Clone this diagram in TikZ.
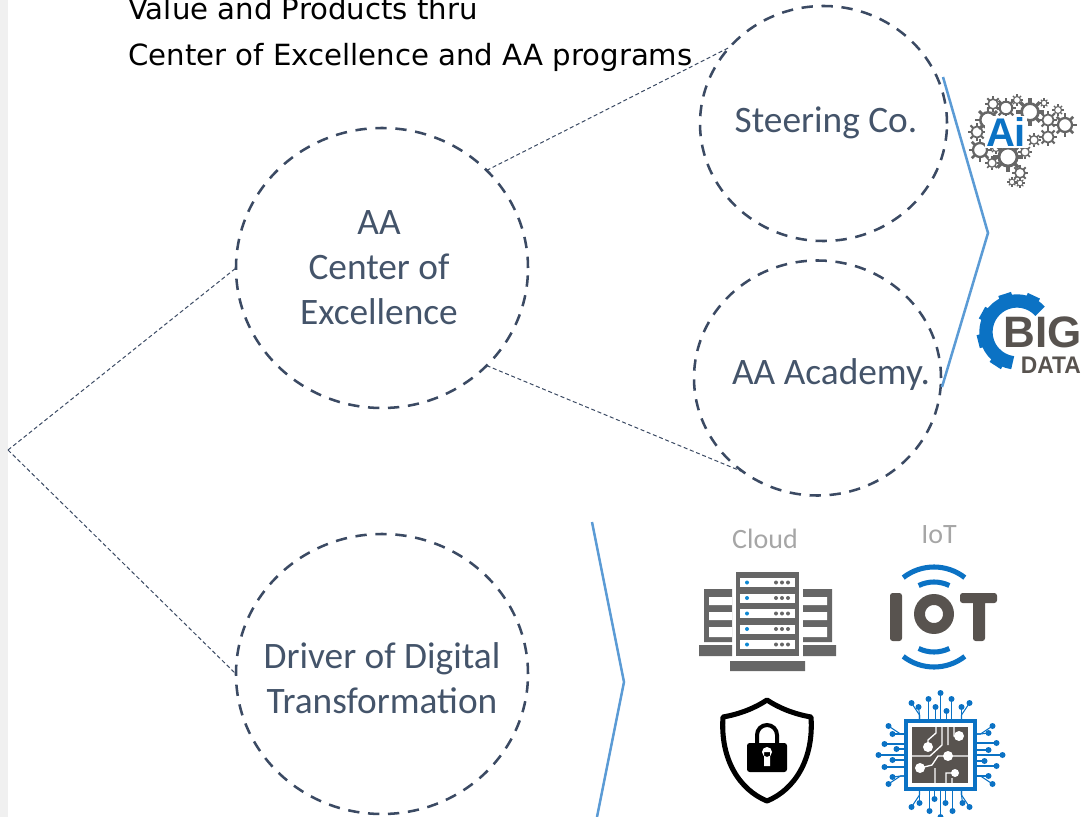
\documentclass[tikz,border=0pt]{standalone}
\usepackage{fontspec}
\setmainfont{Carlito}
\newfontfamily\headfont{DejaVu Sans}
\newfontfamily\iconfont{Liberation Sans}
\usepackage{tikz}
\usepackage{xcolor}
\usetikzlibrary{shapes.geometric, positioning}

\definecolor{slate}{HTML}{44546A}
\definecolor{rim}{HTML}{3B4A63}
\definecolor{chevron}{HTML}{5B9BD5}
\definecolor{iconblue}{HTML}{0B72C4}
\definecolor{icongrey}{HTML}{58534F}
\definecolor{servergrey}{HTML}{666666}

\tikzset{
    bigcircle/.style={ellipse, draw=rim, line width=1.9pt, dash pattern=on 8.5pt off 6.5pt, inner sep=0pt, outer sep=0pt, minimum width=219pt, minimum height=210pt},
    smallcircle/.style={bigcircle, minimum width=185.25pt, minimum height=176.25pt},
    circletext/.style={align=center, inner sep=0pt, text=slate, font=\fontsize{28}{33.75}\selectfont},
    thinlink/.style={draw=rim, line width=.75pt, dash pattern=on 3pt off 2pt},
    bend line/.style={draw=chevron, line width=1.9pt},
    headline/.style={anchor=base west, inner sep=0pt, font=\headfont\fontsize{21.9}{24}\selectfont},
    greylabel/.style={text=black!35, font=\fontsize{21}{25}\selectfont, inner sep=0pt}
}

\newcommand{\cogwheel}[3]{
    \foreach \a in {0,45,...,315}
        \draw[black!60, line width=#3*.2pt] (#1,#2) ++(\a:#3*.75) -- ++(\a:#3*.4);
    \draw[black!60, line width=#3*.17pt] (#1,#2) circle (#3*.7);
}

\begin{document}
\begin{tikzpicture}[x=.75pt, y=-.75pt]
    \useasboundingbox (0,0) rectangle (1082,817);
    \fill[black!6] (0,0) rectangle (8,817);

    \node[headline] (valueline) at (128,20) {Value and Products thru};
    \node[headline] (centerline) at (128,65) {Center of Excellence and AA programs};

    \node[bigcircle] (coe) at (382,268) {};
    \node[bigcircle] (driver) at (382,674) {};
    \node[smallcircle] (steering) at (823.5,123.5) {};
    \node[smallcircle] (academy) at (817.5,378) {};
    \coordinate (apex) at (8,450);

    \node[circletext] (coetext) at (379,268) {AA\\Center of\\Excellence};
    \node[circletext] (drivertext) at (382,678) {Driver of Digital\\Transformation};
    \node[circletext] (steeringtext) at (826,122.5) {Steering Co.};
    \node[circletext] (academytext) at (831,375) {AA Academy.};

    \draw[thinlink] (apex) to (coe.west)
        (apex) to (driver.west)
        (coe.43.6) to (steering.141.5)
        (coe.-43.3) to (academy.232);

    \draw[bend line] (943,77) -- (988,233) -- (942,387);
    \draw[bend line] (592,522) -- (624,682) -- (597,817);

    \node[greylabel] (cloud) at (765,539) {Cloud};
    \node[greylabel] (iot) at (939,535) {IoT};

    % ai brain
    \foreach \x/\y/\r in {988/120/11, 1008/157/13, 1020/173/7, 977/132/8, 980/150/10, 993/104/7, 1006/108/9, 1030/112/12, 1048/120/8, 1065/125/10, 1048/137/8, 1034/140/6, 1025/152/6, 992/163/6, 1017/100/5, 1058/110/5, 1012/182/4, 1020/183/4, 1044/103/4, 996/148/5}
        \cogwheel{\x}{\y}{\r};
    \node[inner sep=1pt, fill=white, text=iconblue, font=\iconfont\bfseries\fontsize{30}{30}\selectfont] (aitext) at (1006,132) {Ai};

    % big data
    \draw[iconblue, line width=10pt] (1017,332) ++(-42:31) arc (-42:-262:31);
    \foreach \a in {-65,-108,-151,-194,-237}
        \draw[iconblue, line width=10pt] (1017,332) ++(\a:34) -- ++(\a:6);
    \node[anchor=base west, inner sep=0pt, text=icongrey, font=\iconfont\bfseries\fontsize{33}{33}\selectfont] (bigtext) at (1003,347) {BIG};
    \node[anchor=base east, inner sep=0pt, xscale=.95, text=icongrey, font=\iconfont\bfseries\fontsize{18}{18}\selectfont] (datatext) at (1081,373) {DATA};

    % server
    \fill[servergrey] (736,572) rectangle (799,656);
    \foreach \y in {578,593.5,609,624.5,640} {
        \fill[white] (740,\y) rectangle (795,\y+9);
        \fill[cyan!70!blue] (747,\y+4.5) circle (2);
        \foreach \x in {776,782,788}
            \fill[servergrey] (\x,\y+4.5) circle (2);
    }
    \fill[servergrey] (704,589) rectangle (732,642) (803,589) rectangle (832,642);
    \foreach \y/\h in {597/8, 612/8, 627/10}
        \fill[white] (709,\y) rectangle (732,\y+\h) (803,\y) rectangle (827,\y+\h);
    \fill[servergrey] (699,645) rectangle (732,656) (803,645) rectangle (836,656) (730,661) rectangle (805,671);

    % iot
    \foreach \r/\a in {50/38, 35/26} {
        \draw[iconblue, line width=3.8pt] (934,617) ++(-90-\a:\r) arc (-90-\a:-90+\a:\r);
        \draw[iconblue, line width=3.8pt] (934,617) ++(90-\a:\r) arc (90-\a:90+\a:\r);
    }
    \fill[icongrey, rounded corners=2pt] (890,593) rectangle (902,641) (960,593) rectangle (997,603) (973,593) rectangle (985,641);
    \draw[icongrey, line width=8.2pt] (934,614) circle (14.5);

    % shield
    \draw[black, line width=3.8pt, line join=round] (767,700) .. controls (755,708) and (740,714) .. (723,717)
        .. controls (720,760) and (740,790) .. (767,801) .. controls (794,790) and (814,760) .. (811,717)
        .. controls (794,714) and (779,708) .. (767,700) -- cycle;
    \fill[black, rounded corners=2pt] (747,743) rectangle (787,772);
    \draw[black, line width=3pt] (757,745) -- (757,735) arc (-180:0:10) -- (777,745);
    \fill[white] (767,752) circle (5) (764,752) rectangle (770,766);

    % chip
    \begin{scope}[shift={(940.5,755)}]
        \foreach \rot in {0,90,180,270}
            \foreach \px/\py/\qx in {0/-62/0, -29/-52/-21, -22/-48/-21, -12/-56/-12, -5/-48/-5, 6/-44/6, 11/-56/11, 21/-48/21, 29/-52/21}
                \draw[rotate=\rot, iconblue, line width=.8pt] (\qx,-34) -- (\qx,-40) -- (\px,\py) node[circle, fill=iconblue, inner sep=0pt, minimum size=4.5pt] {};
    \end{scope}
    \fill[icongrey] (912,727) rectangle (968,783);
    \draw[iconblue, line width=2.6pt] (906,721) rectangle (975,789);
    \draw[white, line width=1pt] (928,747) -- (928,740) -- (936,733) -- (936,727)
        (942,727) -- (942,745) -- (930,756) -- (912,756)
        (948,727) -- (948,745)
        (948,756) -- (938,756) -- (932,765) -- (920,768)
        (935,768) -- (935,783)
        (955,773) -- (946,773) -- (946,783)
        (948,756) -- (968,756)
        (959,736) -- (954,736) -- (954,727)
        (952,783) -- (952,778);
    \fill[white] (959,736) circle (5) (928,747) circle (5) (948,756) circle (5) (920,768) circle (5) (955,773) circle (4);
\end{tikzpicture}
\end{document}
